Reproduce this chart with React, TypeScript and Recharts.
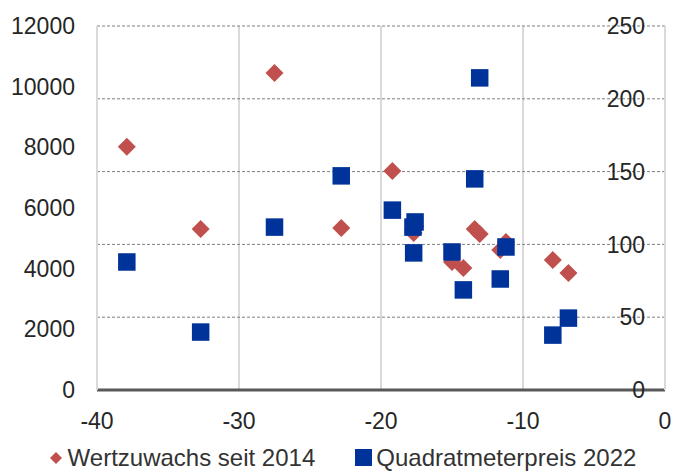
import React from 'react';
import {
  ScatterChart,
  Scatter,
  XAxis,
  YAxis,
  CartesianGrid,
  Legend,
} from 'recharts';

// shared x position per city (change in %), one value for each pair of marks
const xValues = [
  -37.9, -32.7, -27.5, -22.8, -19.2, -17.6, -17.75, -17.7,
  -15.0, -14.2, -13.4, -13.05, -11.6, -11.2, -7.9, -6.8,
];

// right axis (%)
const wertzuwachs = [
  167, 110.6, 217.7, 111.3, 150.4, 112.5, 110, 107.8,
  87.9, 83.8, 110.6, 107.1, 96.2, 101.6, 89.3, 80.4,
];

// left axis (EUR per m2)
const quadratmeterpreis = [
  4220, 1910, 5370, 7060, 5930, 5540, 5370, 4520,
  4550, 3300, 6960, 10290, 3660, 4715, 1810, 2370,
];

const xTicks = [-40, -30, -20, -10, 0];
const leftTicks = [0, 2000, 4000, 6000, 8000, 10000, 12000];
const rightTicks = [0, 50, 100, 150, 200, 250];

const RED = '#C0504D';
const BLUE = '#003399';
const FONT = '"Liberation Sans", Arial, sans-serif';

const wertData = xValues.map((x, i) => ({ x, y: wertzuwachs[i] }));
const preisData = xValues.map((x, i) => ({ x, y: quadratmeterpreis[i] }));

const Diamond = (props: any) => {
  const { cx, cy } = props;
  const r = 9;
  return (
    <polygon
      points={`${cx},${cy - r} ${cx + r},${cy} ${cx},${cy + r} ${cx - r},${cy}`}
      fill={RED}
    />
  );
};

const Square = (props: any) => {
  const { cx, cy } = props;
  const s = 17.5;
  return <rect x={cx - s / 2} y={cy - s / 2} width={s} height={s} fill={BLUE} />;
};

// right-hand labels sit inside the plot, right-aligned 20px left of the axis
const RightTick = (props: any) => {
  const { x, y, payload } = props;
  return (
    <text
      x={x - 20}
      y={y}
      dy="0.355em"
      textAnchor="end"
      fontSize={23}
      fill="#262626"
      fontFamily={FONT}
    >
      {payload.value}
    </text>
  );
};

const renderLegend = () => (
  <div
    style={{
      display: 'flex',
      justifyContent: 'center',
      alignItems: 'center',
      boxSizing: 'border-box',
      height: 30,
      paddingLeft: 20,
      paddingTop: 3,
      fontFamily: FONT,
      fontSize: 24,
      color: '#333',
      whiteSpace: 'nowrap',
    }}
  >
    <svg width={12} height={12} style={{ marginRight: 6 }}>
      <polygon points="6,0 12,6 6,12 0,6" fill={RED} />
    </svg>
    <span style={{ marginRight: 40 }}>Wertzuwachs seit 2014</span>
    <svg width={17} height={17} style={{ marginRight: 4 }}>
      <rect x={0} y={0} width={17} height={17} fill={BLUE} />
    </svg>
    <span>Quadratmeterpreis 2022</span>
  </div>
);

const tickStyle = { fontSize: 23, fill: '#262626', fontFamily: FONT };

export default function App() {
  return (
    <div style={{ position: 'absolute', left: 0, top: 0, width: 673, height: 471, background: '#fff' }}>
      <ScatterChart width={673} height={471} margin={{ top: 26, right: 7, bottom: 0, left: 0 }}>
        <CartesianGrid horizontal={false} stroke="#d9d9d9" strokeWidth={2} yAxisId="left" />
        <CartesianGrid
          vertical={false}
          yAxisId="right"
          stroke="#7f7f7f"
          strokeDasharray="3 2"
          strokeWidth={1}
        />
        <XAxis
          type="number"
          dataKey="x"
          domain={[-40, 0]}
          ticks={xTicks}
          height={51}
          tickSize={0}
          tickMargin={23}
          tickLine={false}
          axisLine={{ stroke: '#595959', strokeWidth: 3 }}
          tick={tickStyle}
          allowDataOverflow
        />
        <YAxis
          yAxisId="left"
          type="number"
          dataKey="y"
          domain={[0, 12000]}
          ticks={leftTicks}
          width={97}
          tickSize={0}
          tickMargin={22}
          tickLine={false}
          axisLine={{ stroke: '#d9d9d9', strokeWidth: 2 }}
          tick={tickStyle}
        />
        <YAxis
          yAxisId="right"
          orientation="right"
          type="number"
          dataKey="y"
          domain={[0, 250]}
          ticks={rightTicks}
          width={1}
          tickSize={0}
          tickMargin={0}
          tickLine={false}
          axisLine={{ stroke: '#d9d9d9', strokeWidth: 2 }}
          tick={<RightTick />}
        />
        <Legend verticalAlign="bottom" content={renderLegend} />
        <Scatter
          name="Wertzuwachs seit 2014"
          data={wertData}
          yAxisId="right"
          shape={Diamond}
          isAnimationActive={false}
        />
        <Scatter
          name="Quadratmeterpreis 2022"
          data={preisData}
          yAxisId="left"
          shape={Square}
          isAnimationActive={false}
        />
      </ScatterChart>
    </div>
  );
}
